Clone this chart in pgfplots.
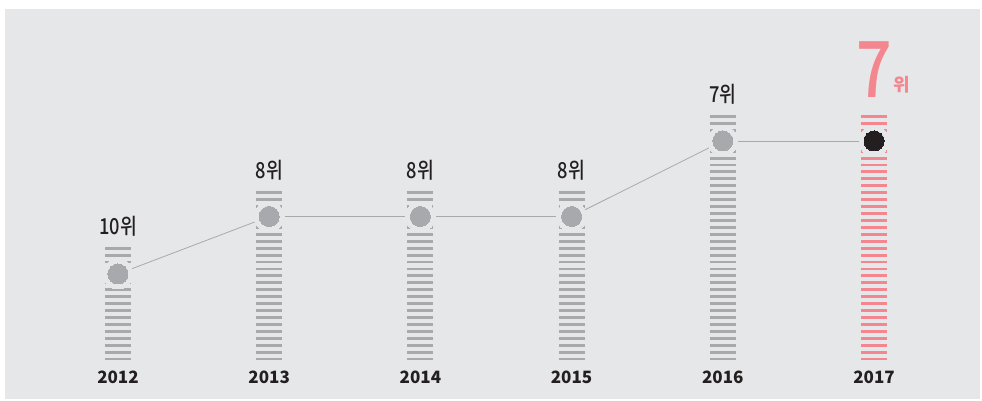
\documentclass[border=0pt]{standalone}
\usepackage{fontspec}
\setmainfont{Noto Sans CJK KR}
\newfontfamily\medfont{Noto Sans CJK KR Medium}
\usepackage{pgfplots}
\pgfplotsset{compat=1.18}
\usepackage{pgfplotstable}
\definecolor{bg}{HTML}{E6E7E8}
\definecolor{barg}{HTML}{A7A9AC}
\definecolor{pinkc}{HTML}{F3868F}
\definecolor{txt}{HTML}{231F20}

% x: category index, mark: visual marker height
\pgfplotstableread{
x mark
0 86.5
1 144
2 144
3 144
4 219.5
}\grayd
\pgfplotstableread{
x mark
4 219.5
5 219.5
}\lastseg
\pgfplotstableread{
x mark
5 219.5
}\pinkd
% bars as segments (nan breaks them)
\pgfplotstableread{
x y
0 0
0 113.8
0 nan
1 0
1 169.2
1 nan
2 0
2 169.2
2 nan
3 0
3 169.2
3 nan
4 0
4 245.5
}\graybars
\pgfplotstableread{
x y
5 0
5 245.5
}\pinkbars
\pgfplotstableread{
x bar label
0 113.8 10위
1 169.2 8위
2 169.2 8위
3 169.2 8위
4 245.5 7위
}\labels

\begin{document}
\begin{tikzpicture}
\useasboundingbox (0,0) rectangle (982pt,401pt);
\fill[bg] (5pt,2pt) rectangle (980pt,392pt);
\begin{axis}[
  at={(0,0)}, anchor=south west,
  scale only axis, width=982pt, height=401pt,
  xmin=-0.7804, xmax=5.7143, ymin=-40.5, ymax=360.5,
  axis line style={draw=none},
  clip=false,
  ytick=\empty,
  xtick={0,1,2,3,4,5},
  xticklabels={2012,2013,2014,2015,2016,2017},
  major tick length=0pt,
  xticklabel style={anchor=base, yshift=17pt, inner sep=0pt, text=txt,
    font=\fontsize{17}{17}\selectfont\bfseries},
  unbounded coords=jump,
]
\addplot[draw=barg, line width=26pt, line cap=butt, dash pattern=on 2.9pt off 4.03pt, no marks]
  table[x=x,y=y]{\graybars};
\addplot[draw=pinkc, line width=26pt, line cap=butt, dash pattern=on 2.9pt off 4.03pt, no marks]
  table[x=x,y=y]{\pinkbars};
% gaps around markers
\addplot[only marks, mark=*, mark size=15pt, color=bg, line width=0pt]
  table[x=x,y=mark]{\grayd};
\addplot[only marks, mark=*, mark size=15pt, color=bg, line width=0pt]
  table[x=x,y=mark]{\pinkd};
% connecting line
\addplot[barg, line width=0.8pt, no marks] table[x=x,y=mark]{\grayd};
\addplot[barg, line width=0.8pt, no marks] table[x=x,y=mark]{\lastseg};
% markers
\addplot[only marks, mark=*, mark size=10pt, color=barg, line width=0pt]
  table[x=x,y=mark]{\grayd};
\addplot[only marks, mark=*, mark size=10pt, color=txt, line width=0pt]
  table[x=x,y=mark]{\pinkd};
% rank labels
\addplot[only marks, mark=none, point meta=explicit symbolic,
  nodes near coords={\scalebox{0.83}[1]{\pgfplotspointmeta}},
  every node near coord/.style={anchor=base, yshift=12.5pt, inner sep=0pt, text=txt,
    font=\fontsize{22}{22}\selectfont\medfont}]
  table[x=x,y=bar,meta=label]{\labels};
\node[anchor=base, inner sep=0pt, text=pinkc, font=\fontsize{78}{78}\selectfont\medfont]
  at (axis cs:5,262.5) {\scalebox{0.8}[1]{7}};
\node[anchor=base west, inner sep=0pt, text=pinkc, font=\fontsize{18}{18}\selectfont\bfseries]
  at (axis cs:5.125,268.5) {위};
\end{axis}
\end{tikzpicture}
\end{document}
